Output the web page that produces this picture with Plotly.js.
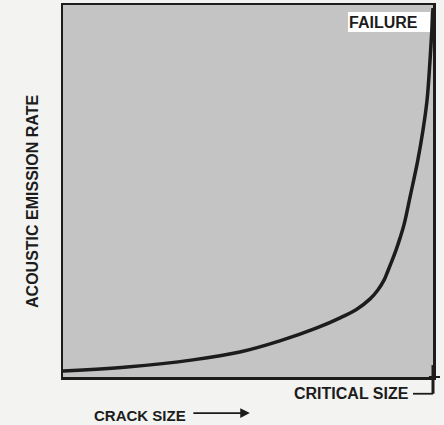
<!DOCTYPE html>
<html>
<head>
<meta charset="utf-8">
<script src="https://cdn.plot.ly/plotly-3.0.1.min.js"></script>
<style>
html,body{margin:0;padding:0;background:#f3f3f1;}
#chart{width:444px;height:425px;}
</style>
</head>
<body>
<div id="chart"></div>
<script>
const crackSize = [0.0, 0.173, 0.351, 0.478, 0.586, 0.686, 0.749, 0.795, 0.830, 0.851, 0.868, 0.878, 0.889, 0.900, 0.911, 0.922, 0.938, 0.959, 0.973, 0.984, 0.992, 0.997, 1.0];
const emissionRate = [0.016, 0.027, 0.046, 0.067, 0.097, 0.132, 0.159, 0.183, 0.210, 0.234, 0.261, 0.285, 0.312, 0.341, 0.374, 0.411, 0.484, 0.583, 0.664, 0.745, 0.852, 0.933, 0.992];
const xLabel = "CRACK SIZE";
const yLabel = "ACOUSTIC EMISSION RATE";
const failureLabel = "FAILURE";
const criticalLabel = "CRITICAL SIZE";

const ink = "#1c1c1c";
const fontFam = "Liberation Sans, Arial, Helvetica, sans-serif";
const labelFont = {family: fontFam, size: 16, color: ink, weight: "bold"};

const trace = {
  x: crackSize,
  y: emissionRate,
  type: "scatter",
  mode: "lines",
  line: {color: ink, width: 3.5, shape: "spline", smoothing: 1},
  hoverinfo: "skip",
  showlegend: false
};

const layout = {
  width: 444,
  height: 425,
  margin: {l: 63, r: 11, t: 5, b: 48, pad: 0},
  paper_bgcolor: "#f3f3f1",
  plot_bgcolor: "#c4c4c4",
  showlegend: false,
  xaxis: {
    range: [0, 1], showgrid: false, zeroline: false, showticklabels: false, ticks: "",
    showline: true, mirror: true, linecolor: ink, linewidth: 2.5, fixedrange: true
  },
  yaxis: {
    range: [0, 1], showgrid: false, zeroline: false, showticklabels: false, ticks: "",
    showline: true, mirror: true, linecolor: ink, linewidth: 2.5, fixedrange: true
  },
  annotations: [
    {
      text: failureLabel, xref: "paper", yref: "paper", x: 0.881, y: 0.954,
      xanchor: "center", yanchor: "middle", showarrow: false,
      width: 80, height: 18, align: "left",
      bgcolor: "#ffffff", borderpad: 1, borderwidth: 0,
      font: labelFont
    },
    {
      text: criticalLabel, xref: "paper", yref: "paper", x: 0.941, y: -0.045,
      xanchor: "right", yanchor: "middle", showarrow: false,
      font: labelFont
    },
    {
      text: xLabel, xref: "paper", yref: "paper", x: 0.078, y: -0.103,
      xanchor: "left", yanchor: "middle", showarrow: false,
      font: {family: fontFam, size: 15, color: ink, weight: "bold"}
    },
    {
      text: "", xref: "paper", yref: "paper", x: 0.505, y: -0.097,
      ax: -58, ay: 0, showarrow: true, arrowhead: 2, arrowsize: 1.2,
      arrowwidth: 1.6, arrowcolor: ink
    },
    {
      text: yLabel, xref: "paper", yref: "paper", x: -0.084, y: 0.473,
      xanchor: "center", yanchor: "middle", textangle: -90, showarrow: false,
      font: labelFont
    }
  ],
  shapes: [
    {type: "line", xref: "paper", yref: "paper", x0: 1, x1: 1, y0: 0.032, y1: -0.045,
     line: {color: ink, width: 3}},
    {type: "line", xref: "paper", yref: "paper", x0: 0.946, x1: 1, y0: -0.045, y1: -0.045,
     line: {color: ink, width: 1.8}},
    {type: "line", xref: "paper", yref: "paper", x0: 0.989, x1: 1.019, y0: 0, y1: 0,
     line: {color: ink, width: 2}}
  ]
};

Plotly.newPlot("chart", [trace], layout, {staticPlot: true, displayModeBar: false});
</script>
</body>
</html>
